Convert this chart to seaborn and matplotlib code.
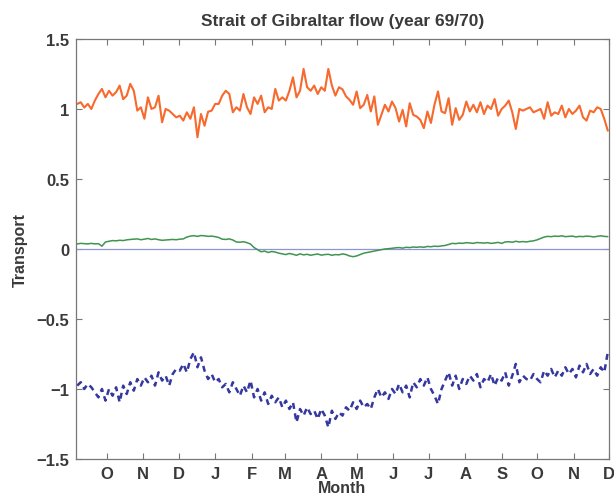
import pandas as pd
import matplotlib
matplotlib.use('Agg')
import matplotlib.pyplot as plt
import matplotlib.dates as mdates
import matplotlib.ticker as mticker
import seaborn as sns

### sampling of the record (one value every 3 days)
start_date = '1969-09-06'
step = '3D'

### upper layer (orange)
inflow = [
    1.036, 1.048, 1.01, 1.036, 1.0, 1.06, 1.107, 1.143, 1.083, 1.13,
    1.095, 1.12, 1.167, 1.07, 1.095, 1.179, 1.13, 0.988, 1.012, 0.93,
    1.083, 1.0, 1.012, 1.095, 0.905, 1.0, 0.988, 0.964, 0.94, 0.952,
    0.917, 0.976, 0.93, 1.012, 0.798, 0.964, 0.88, 0.98,
    0.988, 1.036, 1.036, 1.095, 1.13, 1.107, 0.976, 1.012, 0.988, 1.107,
    1.012, 0.964, 1.083, 1.036, 1.095, 0.976, 1.012, 1.0, 1.143, 1.06,
    1.083, 1.06, 1.13, 1.226, 1.083, 1.13, 1.286, 1.155, 1.13, 1.167,
    1.107, 1.155, 1.13, 1.286, 1.167, 1.095, 1.155,
    1.14, 1.09, 1.065, 1.03, 1.125, 1.006, 1.03, 1.10, 0.982, 1.09,
    0.887, 0.958, 1.03, 0.982, 1.053, 1.006, 0.91, 0.994, 0.875, 1.041,
    0.958, 0.946, 0.922, 0.863, 0.982, 0.90, 1.03, 1.125, 0.982, 0.97,
    1.077, 0.887, 1.006, 0.922, 0.958, 1.053, 0.982, 1.03,
    0.976, 1.048, 0.964, 1.024, 1.0, 1.071, 0.952, 1.0, 1.024, 1.06,
    0.976, 0.857, 1.0, 0.988, 1.0, 1.012, 0.976, 0.988, 1.0, 0.93,
    1.048, 0.952, 0.976, 0.964, 1.024, 0.94, 1.0, 0.964, 0.988, 1.024,
    0.94, 0.917, 0.988, 0.976, 1.012, 1.0, 0.93, 0.845,
]

### net flow (green)
net = [
    0.036, 0.04, 0.038, 0.036, 0.04, 0.036, 0.038, 0.02, 0.05, 0.055,
    0.06, 0.058, 0.062, 0.06, 0.065, 0.068, 0.07, 0.072, 0.066, 0.07,
    0.075, 0.068, 0.072, 0.066, 0.062, 0.064, 0.066, 0.068, 0.066, 0.07,
    0.072, 0.085, 0.092, 0.095, 0.09, 0.096, 0.094, 0.09, 0.092, 0.088,
    0.082, 0.07, 0.068, 0.072, 0.064, 0.05, 0.048, 0.052, 0.045, 0.035,
    0.01, -0.005, -0.02, -0.015, -0.025, -0.018, -0.022, -0.03, -0.035, -0.04,
    -0.032, -0.038, -0.045, -0.035, -0.042, -0.038, -0.045, -0.04, -0.036, -0.044,
    -0.04, -0.038, -0.045, -0.04, -0.042, -0.035, -0.04, -0.05, -0.055, -0.05,
    -0.04, -0.03, -0.025, -0.02, -0.015, -0.01, -0.005, 0.0, 0.002, 0.005,
    0.008, 0.01, 0.006, 0.012, 0.01, 0.014, 0.012, 0.015, 0.012, 0.018,
    0.016, 0.02, 0.018, 0.022, 0.025, 0.032, 0.04, 0.038, 0.042, 0.04,
    0.045, 0.043, 0.04, 0.046, 0.044, 0.042, 0.045, 0.04, 0.043, 0.047,
    0.04, 0.05, 0.052, 0.048, 0.055, 0.05, 0.053, 0.05, 0.055, 0.058,
    0.065, 0.075, 0.085, 0.09, 0.088, 0.092, 0.09, 0.094, 0.088, 0.09,
    0.092, 0.086, 0.09, 0.088, 0.092, 0.09, 0.086, 0.09, 0.094, 0.09, 0.088,
]

### lower layer (blue, dashed)
outflow = [
    -0.976, -0.952, -1.0, -0.964, -0.988, -1.024, -1.06, -1.0, -1.083, -1.0,
    -1.048, -0.988, -1.095, -0.976, -1.036, -0.952, -1.012, -0.929, -0.976, -0.917,
    -0.952, -0.905, -0.976, -0.881, -0.94, -0.905, -0.976, -0.893, -0.857, -0.869,
    -0.821, -0.881, -0.786, -0.738, -0.845, -0.774, -0.869, -0.929, -0.893, -0.952,
    -0.929, -0.988, -0.964, -1.024, -0.952, -1.0, -1.048, -0.976, -1.024, -0.94,
    -1.06, -1.0, -1.083, -1.024, -1.107, -1.048, -1.095, -1.06, -1.131, -1.083,
    -1.143, -1.095, -1.238, -1.143, -1.19, -1.131, -1.179, -1.155, -1.214, -1.143,
    -1.19, -1.274, -1.155, -1.214, -1.167, -1.19, -1.131, -1.155, -1.095, -1.143,
    -1.083, -1.131, -1.107, -1.143, -1.06, -1.0, -1.06, -1.024, -1.071, -1.0,
    -1.036, -0.964, -1.024, -0.976, -1.06, -0.952, -0.988, -0.929, -0.976, -0.917,
    -1.0, -1.048, -1.107, -1.0, -0.94, -0.881, -0.976, -0.905, -1.0, -0.929,
    -0.964, -0.905, -0.94, -0.893, -0.988, -0.929, -0.952, -0.893, -0.976, -0.917,
    -0.94, -0.881, -0.976, -0.905, -0.821, -0.952, -0.905, -0.929, -0.94, -0.893,
    -0.929, -0.952, -0.869, -0.905, -0.857, -0.917, -0.869, -0.905, -0.845, -0.893,
    -0.857, -0.917, -0.833, -0.881, -0.821, -0.893, -0.857, -0.905, -0.845, -0.881, -0.738,
]

y_ticks = [-1.5, -1, -0.5, 0, 0.5, 1, 1.5]
y_tick_labels = ['\u22121.5', '\u22121', '\u22120.5', '0', '0.5', '1', '1.5']

text_color = '#3a3a3a'


def get_data_as_df():
    dates = pd.date_range(start_date, periods=len(inflow), freq=step)
    df = pd.DataFrame({'date': dates, 'inflow': inflow,
                       'net': net, 'outflow': outflow})
    return df


def draw_flow(df):
    sns.set_style('ticks')
    plt.rcParams['font.family'] = ['Liberation Sans', 'DejaVu Sans']
    plt.rcParams['font.weight'] = 'bold'

    fig = plt.figure(figsize=(6.14, 5.02), dpi=100)
    ax = fig.add_axes([0.1238, 0.0837, 0.868, 0.8367])

    ax.axhline(0, color='#8f95d4', lw=0.9, zorder=1)
    sns.lineplot(data=df, x='date', y='inflow', ax=ax,
                 color='#f7692c', lw=1.5)
    sns.lineplot(data=df, x='date', y='net', ax=ax,
                 color='#3f9450', lw=1.1)
    sns.lineplot(data=df, x='date', y='outflow', ax=ax,
                 color='#35399f', lw=1.8, linestyle='--')
    ax.lines[-1].set_dashes([2.4, 1.8])

    ax.set_xlim(pd.Timestamp('1969-09-05'), pd.Timestamp('1970-12-01'))
    ax.set_ylim(-1.5, 1.5)

    ax.xaxis.set_major_locator(mdates.MonthLocator())
    ax.xaxis.set_major_formatter(mticker.FuncFormatter(
        lambda v, pos: mdates.num2date(v).strftime('%b')[0]))
    ax.set_yticks(y_ticks)
    ax.set_yticklabels(y_tick_labels)

    ax.tick_params(direction='in', length=4, width=0.8, colors='#777777',
                   labelcolor=text_color, labelsize=12,
                   top=True, right=True, pad=5)
    for s in ax.spines.values():
        s.set_color('#777777')
        s.set_linewidth(0.9)

    ax.set_title('Strait of Gibraltar flow (year 69/70)', fontsize=12.5,
                 fontweight='bold', color=text_color, pad=10)
    ax.set_xlabel('Month', fontsize=11.5, fontweight='bold',
                  color=text_color, labelpad=-1)
    ax.set_ylabel('Transport', fontsize=11.5, fontweight='bold',
                  color=text_color, labelpad=6)

    fig.savefig('out.png', dpi=100)


if __name__ == "__main__":
    df = get_data_as_df()
    draw_flow(df)
